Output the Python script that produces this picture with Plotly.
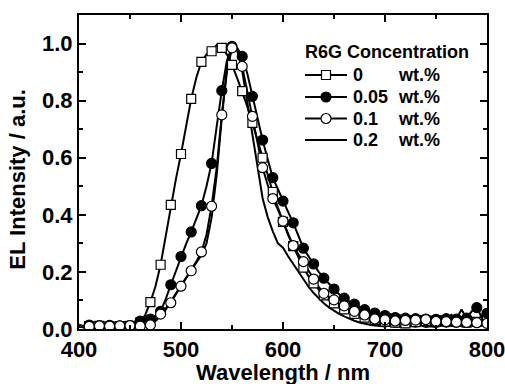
import plotly.graph_objects as go

# Wavelength grid (nm), 5 nm steps from 400 to 800
wavelength = list(range(400, 805, 5))

# EL intensity (normalised) for each R6G concentration
el_0 = [
    0.012, 0.006, 0.010, 0.004, 0.011, 0.007, 0.009, 0.005, 0.010, 0.008,   # 400-445
    0.011, 0.014, 0.022, 0.050, 0.094, 0.150, 0.225, 0.330, 0.435, 0.525,   # 450-495
    0.613, 0.710, 0.806, 0.880, 0.936, 0.962, 0.973, 0.995, 0.985, 0.962,   # 500-545
    0.925, 0.880, 0.833, 0.780, 0.722, 0.660, 0.600, 0.540, 0.480, 0.425,   # 550-595
    0.375, 0.330, 0.290, 0.250, 0.215, 0.185, 0.160, 0.138, 0.118, 0.102,   # 600-645
    0.090, 0.078, 0.069, 0.060, 0.053, 0.046, 0.040, 0.036, 0.031, 0.028,   # 650-695
    0.026, 0.030, 0.022, 0.027, 0.020, 0.029, 0.024, 0.021, 0.028, 0.019,   # 700-745
    0.026, 0.022, 0.030, 0.020, 0.027, 0.035, 0.022, 0.040, 0.025, 0.048,   # 750-795
    0.030,                                                                   # 800
]
el_005 = [
    0.015, 0.010, 0.014, 0.008, 0.012, 0.009, 0.013, 0.008, 0.011, 0.010,
    0.012, 0.018, 0.028, 0.038, 0.035, 0.045, 0.062, 0.105, 0.155, 0.205,
    0.254, 0.298, 0.340, 0.385, 0.432, 0.500, 0.580, 0.710, 0.835, 0.940,
    0.990, 0.985, 0.955, 0.895, 0.815, 0.735, 0.662, 0.595, 0.530, 0.490,
    0.448, 0.410, 0.372, 0.328, 0.283, 0.255, 0.228, 0.200, 0.178, 0.158,
    0.140, 0.122, 0.108, 0.097, 0.087, 0.077, 0.068, 0.062, 0.056, 0.051,
    0.047, 0.052, 0.040, 0.048, 0.038, 0.045, 0.036, 0.046, 0.035, 0.044,
    0.034, 0.045, 0.036, 0.050, 0.035, 0.068, 0.038, 0.062, 0.075, 0.040,
    0.055,
]
el_01 = [
    0.010, 0.006, 0.009, 0.005, 0.011, 0.012, 0.010, 0.008, 0.011, 0.009,
    0.012, 0.010, 0.010, 0.009, 0.014, 0.032, 0.052, 0.072, 0.092, 0.122,
    0.150, 0.176, 0.204, 0.236, 0.270, 0.330, 0.430, 0.565, 0.750, 0.900,
    0.985, 0.975, 0.920, 0.830, 0.745, 0.655, 0.565, 0.505, 0.457, 0.418,
    0.378, 0.335, 0.292, 0.262, 0.236, 0.205, 0.175, 0.148, 0.125, 0.112,
    0.102, 0.091, 0.081, 0.071, 0.062, 0.055, 0.049, 0.041, 0.035, 0.033,
    0.032, 0.030, 0.028, 0.026, 0.030, 0.025, 0.031, 0.028, 0.033, 0.024,
    0.027, 0.022, 0.026, 0.020, 0.024, 0.019, 0.023, 0.018, 0.022, 0.017,
    0.020,
]
el_02 = [
    0.008, 0.005, 0.007, 0.004, 0.006, 0.005, 0.007, 0.004, 0.006, 0.005,
    0.006, 0.005, 0.006, 0.008, 0.012, 0.028, 0.045, 0.068, 0.094, 0.124,
    0.152, 0.180, 0.208, 0.232, 0.258, 0.300, 0.390, 0.540, 0.740, 0.915,
    0.990, 0.985, 0.905, 0.795, 0.680, 0.565, 0.458, 0.392, 0.342, 0.300,
    0.285, 0.255, 0.228, 0.200, 0.172, 0.148, 0.126, 0.107, 0.090, 0.076,
    0.064, 0.053, 0.044, 0.036, 0.029, 0.023, 0.018, 0.015, 0.012, 0.010,
    0.009, 0.012, 0.007, 0.010, 0.006, 0.011, 0.008, 0.013, 0.007, 0.010,
    0.006, 0.012, 0.008, 0.011, 0.007, 0.012, 0.009, 0.014, 0.010, 0.013,
    0.009,
]

legend_title = "R6G Concentration"
concentrations = ["0", "0.05", "0.1", "0.2"]
unit = "wt.%"
x_title = "Wavelength / nm"
y_title = "EL Intensity / a.u."

FONT = "Liberation Sans, Arial, Helvetica, sans-serif"
LW = 2.0

markers = [
    dict(symbol="square", color="white", size=9,
         line=dict(color="black", width=1.2)),
    dict(symbol="circle", color="black", size=10,
         line=dict(color="black", width=1.2)),
    dict(symbol="circle", color="white", size=10,
         line=dict(color="black", width=1.2)),
    None,
]
series = [el_0, el_005, el_01, el_02]

fig = go.Figure()

# dense lines
for ys in series:
    fig.add_trace(go.Scatter(x=wavelength, y=ys, mode="lines",
                             line=dict(color="black", width=LW),
                             showlegend=False, hoverinfo="skip"))
# markers every 10 nm
for ys, mk in zip(series, markers):
    if mk is None:
        continue
    fig.add_trace(go.Scatter(x=wavelength[2::2], y=ys[2::2], mode="markers",
                             marker=mk, showlegend=False, hoverinfo="skip"))

# ---- hand-built legend on an overlay axis measured in pixels ----
leg_rows_y = [75, 97, 118.5, 140]
leg_line_x = [305, 347]
leg_mark_x = 326
for row_y, mk, conc in zip(leg_rows_y, markers, concentrations):
    fig.add_trace(go.Scatter(x=leg_line_x, y=[row_y, row_y], mode="lines",
                             line=dict(color="black", width=LW),
                             xaxis="x2", yaxis="y2",
                             showlegend=False, hoverinfo="skip"))
    if mk is not None:
        fig.add_trace(go.Scatter(x=[leg_mark_x], y=[row_y], mode="markers",
                                 marker=mk, xaxis="x2", yaxis="y2",
                                 showlegend=False, hoverinfo="skip"))
    fig.add_annotation(text=conc, xref="x2", yref="y2", x=351, y=row_y,
                       xanchor="left", yanchor="middle", showarrow=False,
                       font=dict(family=FONT, size=18, color="black",
                                 weight="bold"))
    fig.add_annotation(text=unit, xref="x2", yref="y2", x=396, y=row_y,
                       xanchor="left", yanchor="middle", showarrow=False,
                       font=dict(family=FONT, size=18, color="black",
                                 weight="bold"))
fig.add_annotation(text=legend_title, xref="x2", yref="y2", x=303, y=52,
                   xanchor="left", yanchor="middle", showarrow=False,
                   font=dict(family=FONT, size=18, color="black",
                             weight="bold"))

axis_common = dict(
    showline=True, linecolor="black", linewidth=2, mirror="ticks",
    ticks="inside", ticklen=7, tickwidth=2, tickcolor="black",
    showgrid=False, zeroline=False, automargin=False,
    tickfont=dict(family=FONT, size=22, color="black", weight="bold"),
)

fig.update_xaxes(range=[400, 800], dtick=100, tick0=400,
                 ticklabeloverflow="allow",
                 minor=dict(dtick=50, ticks="inside", ticklen=4,
                            tickwidth=2, tickcolor="black", showgrid=False),
                 **axis_common)
fig.update_yaxes(range=[0, 1.1], dtick=0.2, tick0=0, tickformat=".1f",
                 minor=dict(dtick=0.1, ticks="inside", ticklen=4,
                            tickwidth=2, tickcolor="black", showgrid=False),
                 **axis_common)

fig.add_annotation(text=x_title, xref="paper", yref="paper",
                   x=0.5, y=-0.137, xanchor="center", yanchor="middle",
                   showarrow=False,
                   font=dict(family=FONT, size=22, color="black", weight="bold"))
fig.add_annotation(text=y_title, xref="paper", yref="paper",
                   x=-0.15, y=0.478, xanchor="center", yanchor="middle",
                   textangle=-90, showarrow=False,
                   font=dict(family=FONT, size=22, color="black", weight="bold"))

fig.update_layout(
    width=505, height=384,
    margin=dict(l=79, r=18, t=15, b=55, autoexpand=False),
    paper_bgcolor="white", plot_bgcolor="white",
    showlegend=False,
    xaxis2=dict(overlaying="x", range=[79, 487], visible=False,
                fixedrange=True, automargin=False),
    yaxis2=dict(overlaying="y", range=[329, 15], visible=False,
                fixedrange=True, automargin=False),
)

fig.write_html("out.html")
